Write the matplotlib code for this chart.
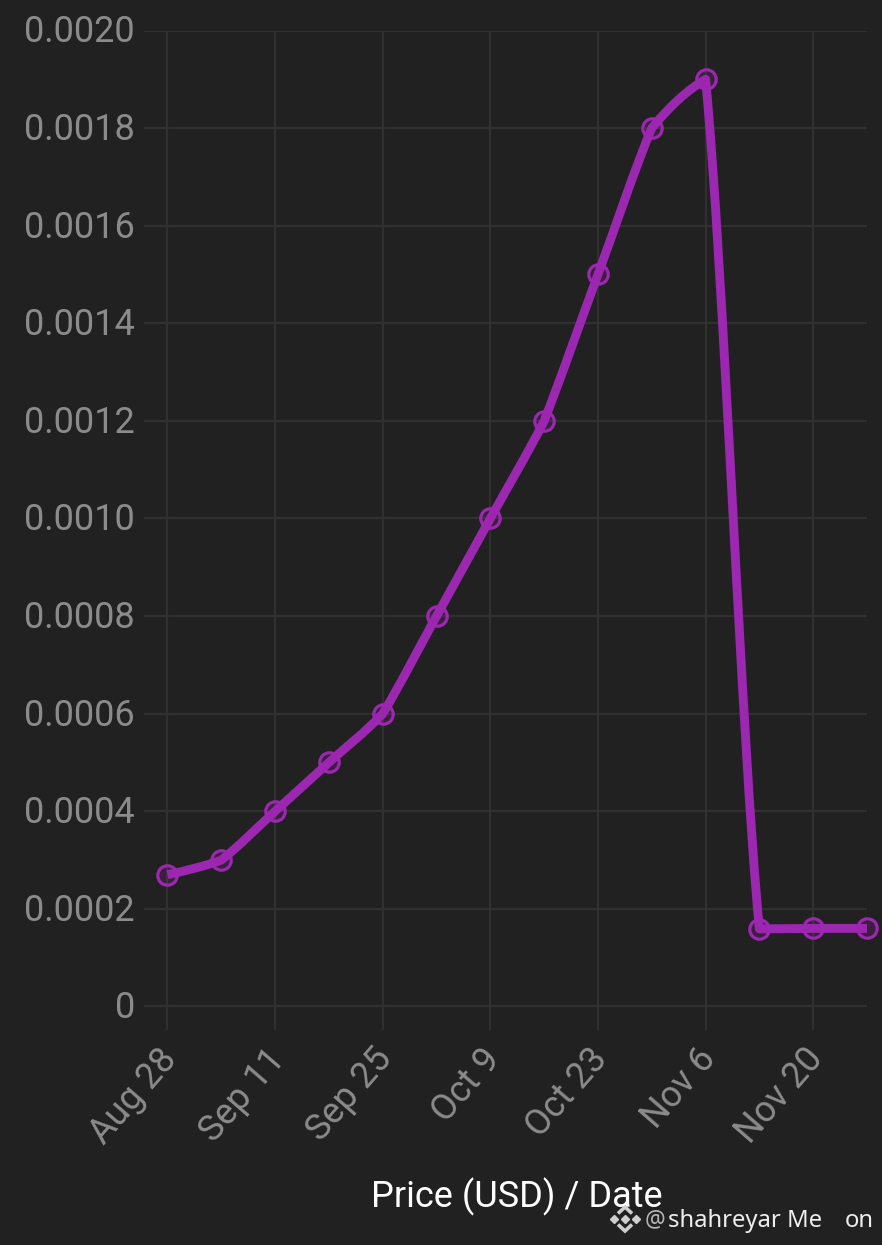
import matplotlib
matplotlib.use("Agg")
import matplotlib.pyplot as plt
import matplotlib.dates as mdates
import matplotlib.transforms as mtrans
from matplotlib.lines import Line2D
from matplotlib.path import Path
from matplotlib.patches import PathPatch
import numpy as np
import pandas as pd

plt.rcParams["font.family"] = ["Roboto", "DejaVu Sans"]

BG = "#212121"
GRID = "#303030"
TICK = "#8b8b8b"
PURPLE = "#9c27b0"
TENSION = 0.35  # 0 is straight segments, 1 is a full monotone curve

# Weekly price readings
dates = pd.to_datetime([
    "2021-08-28", "2021-09-04", "2021-09-11", "2021-09-18", "2021-09-25",
    "2021-10-02", "2021-10-09", "2021-10-16", "2021-10-23", "2021-10-30",
    "2021-11-06", "2021-11-13", "2021-11-20", "2021-11-27",
])
prices = [0.00027, 0.0003, 0.0004, 0.0005, 0.0006, 0.0008, 0.0010,
          0.0012, 0.0015, 0.0018, 0.0019, 0.000159, 0.00016, 0.00016]

x_ticks = pd.to_datetime(["2021-08-28", "2021-09-11", "2021-09-25", "2021-10-09",
                          "2021-10-23", "2021-11-06", "2021-11-20"])
x_labels = ["Aug 28", "Sep 11", "Sep 25", "Oct 9", "Oct 23", "Nov 6", "Nov 20"]
y_ticks = [0, 0.0002, 0.0004, 0.0006, 0.0008, 0.0010, 0.0012, 0.0014, 0.0016, 0.0018, 0.0020]
y_labels = ["0", "0.0002", "0.0004", "0.0006", "0.0008", "0.0010", "0.0012",
            "0.0014", "0.0016", "0.0018", "0.0020"]


def smooth_path(xs, ys):
    # bezier segments through every reading, tangents pulled toward the chord
    h = np.diff(xs)
    s = np.diff(ys) / h
    t = np.zeros(len(xs))
    for i in range(1, len(xs) - 1):
        if s[i - 1] * s[i] > 0:
            p = (s[i - 1] * h[i] + s[i] * h[i - 1]) / (h[i - 1] + h[i])
            t[i] = np.sign(s[i]) * min(abs(s[i - 1]), abs(s[i]), 0.5 * abs(p)) * 2
    t[0] = (3 * s[0] - t[1]) / 2
    t[-1] = (3 * s[-1] - t[-2]) / 2
    verts = [(xs[0], ys[0])]
    codes = [Path.MOVETO]
    for i in range(len(h)):
        t0 = TENSION * t[i] + (1 - TENSION) * s[i]
        t1 = TENSION * t[i + 1] + (1 - TENSION) * s[i]
        verts += [(xs[i] + h[i] / 3, ys[i] + t0 * h[i] / 3),
                  (xs[i + 1] - h[i] / 3, ys[i + 1] - t1 * h[i] / 3),
                  (xs[i + 1], ys[i + 1])]
        codes += [Path.CURVE4] * 3
    return Path(verts, codes)


W, H = 882, 1245
fig = plt.figure(figsize=(W / 100, H / 100), dpi=100, facecolor=BG)

# axes box in pixels: left 144, right 867, top 30.5, bottom 1030
ax = fig.add_axes([144 / W, 1 - 1030 / H, (867 - 144) / W, (1030 - 30.5) / H], facecolor=BG)

date_nums = mdates.date2num(dates)
ax.add_patch(PathPatch(smooth_path(date_nums, np.array(prices)), fc="none", ec=PURPLE,
                       lw=6.4, joinstyle="round", capstyle="butt", zorder=4, clip_on=False))
ax.plot(dates, prices, ls="none", marker="o", ms=14, mew=2.3, mec=PURPLE,
        mfc=(0.61, 0.15, 0.69, 0.2), zorder=5, clip_on=False)

# limits chosen so the gridlines run past the first date and below zero
ax.set_xlim(date_nums[0] - 23.5 / 53.85 * 7, date_nums[-1])
ax.set_ylim(-23.5 / 97.55 * 0.0002, 0.0020)

ax.set_xticks(x_ticks)
ax.set_xticklabels(x_labels, rotation=49, ha="right", rotation_mode="anchor")
ax.set_yticks(y_ticks)
ax.set_yticklabels(y_labels)
ax.tick_params(length=0, labelsize=26, labelcolor=TICK)
ax.tick_params(axis="y", pad=6.5)
ax.tick_params(axis="x", pad=14)
ax.grid(True, color=GRID, lw=1.6)
ax.set_axisbelow(True)
for spine in ax.spines.values():
    spine.set_visible(False)

# nudge the labels to where they sit in the reference
shift_x = mtrans.ScaledTranslation(-10 / 100, 8 / 100, fig.dpi_scale_trans)
for lab in ax.get_xticklabels():
    lab.set_transform(lab.get_transform() + shift_x)
shift_y = mtrans.ScaledTranslation(0, 2 / 100, fig.dpi_scale_trans)
for lab in ax.get_yticklabels():
    lab.set_transform(lab.get_transform() + shift_y)

fig.text(517 / W, 1 - 1197 / H, "Price (USD) / Date", color="white", fontsize=26,
         ha="center", va="center")

# watermark: binance style logo, then the handle
LOGO = "#cfcfcf"
for lx, ly in zip([614, 625, 636], [1219, 1219, 1219]):
    fig.add_artist(Line2D([lx / W], [1 - ly / H], marker="D", ms=3.6, color=LOGO,
                          ls="none", transform=fig.transFigure))
for apex, side in zip([1207, 1231], [1213.5, 1224.5]):
    fig.add_artist(Line2D(np.array([618, 625, 632]) / W, 1 - np.array([side, apex, side]) / H,
                          color=LOGO, lw=2.6, transform=fig.transFigure,
                          solid_joinstyle="miter", solid_capstyle="butt"))
fig.text(645 / W, 1 - 1220 / H, "@", color="#b5b5b5", fontsize=16.5, ha="left", va="center",
         family=["Noto Sans", "DejaVu Sans"])
fig.text(668 / W, 1 - 1221 / H, "shahreyar Me", color="#eeeeee", fontsize=17.2, ha="left", va="center",
         family=["Noto Sans", "DejaVu Sans"])
fig.text(845 / W, 1 - 1221 / H, "on", color="#eeeeee", fontsize=17.2, ha="left", va="center",
         family=["Noto Sans", "DejaVu Sans"])

fig.savefig("out.png", dpi=100, facecolor=BG)
